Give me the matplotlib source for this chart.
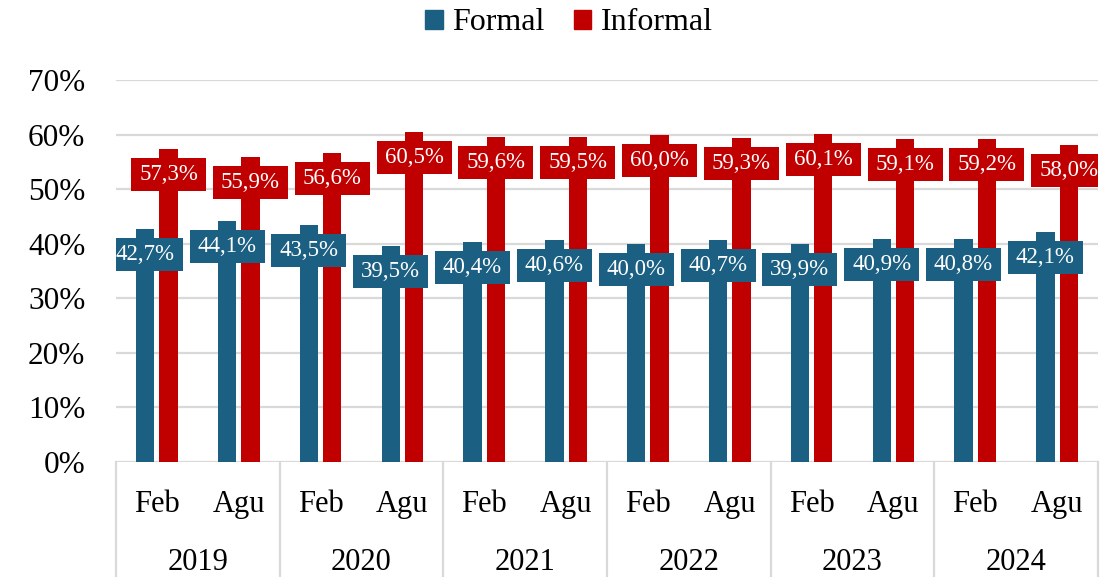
import numpy as np
import matplotlib.pyplot as plt
from matplotlib.patches import Rectangle, Patch

years = ["2019", "2020", "2021", "2022", "2023", "2024"]
months = ["Feb", "Agu"]
formal = [42.7, 44.1, 43.5, 39.5, 40.4, 40.6, 40.0, 40.7, 39.9, 40.9, 40.8, 42.1]
informal = [57.3, 55.9, 56.6, 60.5, 59.6, 59.5, 60.0, 59.3, 60.1, 59.1, 59.2, 58.0]
yticks = [0, 10, 20, 30, 40, 50, 60, 70]

c_formal = "#1b5f82"
c_informal = "#c00000"
grid_c = "#d9d9d9"

plt.rcParams['font.family'] = ['Liberation Serif', 'DejaVu Serif']

fig = plt.figure(figsize=(11.04, 5.77), dpi=100)
W, H = 1104, 577
# plot area in pixels: x 116..1098, y 80..462
ax = fig.add_axes([116 / W, 1 - 462 / H, (1098 - 116) / W, (462 - 80) / H])

x = np.arange(len(formal))
bw = 0.224
off = 0.143
ax.bar(x - off, formal, bw, color=c_formal, zorder=2)
ax.bar(x + off, informal, bw, color=c_informal, zorder=2)

ax.set_xlim(-0.5, len(formal) - 0.5)
ax.set_ylim(0, 70)
ax.set_yticks(yticks)
ax.set_yticklabels([f"{v}%" for v in yticks], fontsize=22.5)
ax.tick_params(axis='y', length=0, pad=22)
ax.set_xticks([])
for s in ax.spines.values():
    s.set_visible(False)
for v in yticks:
    ax.axhline(v, color=grid_c, linewidth=1.6, zorder=1)

# labels in boxes, centered a bit below the top of each bar
px_x = (1098 - 116) / len(formal)
px_y = (462 - 80) / 70
box_w = 75 / px_x
box_h = 33 / px_y
drop = 25.5 / px_y
for xs, vals, col in [(x - off, formal, c_formal), (x + off, informal, c_informal)]:
    for xi, v in zip(xs, vals):
        yc = v - drop
        ax.add_patch(Rectangle((xi - box_w / 2, yc - box_h / 2), box_w, box_h,
                               facecolor=col, edgecolor='none', zorder=3))
        ax.text(xi, yc, f"{v:.1f}%".replace(".", ","), ha='center', va='center',
                color='white', fontsize=16.5, zorder=4)

# two-level category axis
tr = ax.get_xaxis_transform()
for i in range(len(formal)):
    ax.text(i, -0.11, months[i % 2], transform=tr, ha='center', va='center',
            fontsize=22, clip_on=False)
for j, yr in enumerate(years):
    ax.text(2 * j + 0.5, -0.262, yr, transform=tr, ha='center', va='center',
            fontsize=22, clip_on=False)
for j in range(len(years) + 1):
    ax.plot([2 * j - 0.5, 2 * j - 0.5], [0, -0.35], transform=tr, color=grid_c,
            linewidth=1.6, clip_on=False)

handles = [Patch(color=c_formal, label="Formal"), Patch(color=c_informal, label="Informal")]
fig.legend(handles=handles, loc='center', bbox_to_anchor=(569 / W, 1 - 23 / H), ncol=2,
           frameon=False, fontsize=23, handlelength=0.55, handleheight=0.55,
           handletextpad=0.3, columnspacing=0.9)

fig.savefig("out.png", dpi=100)
